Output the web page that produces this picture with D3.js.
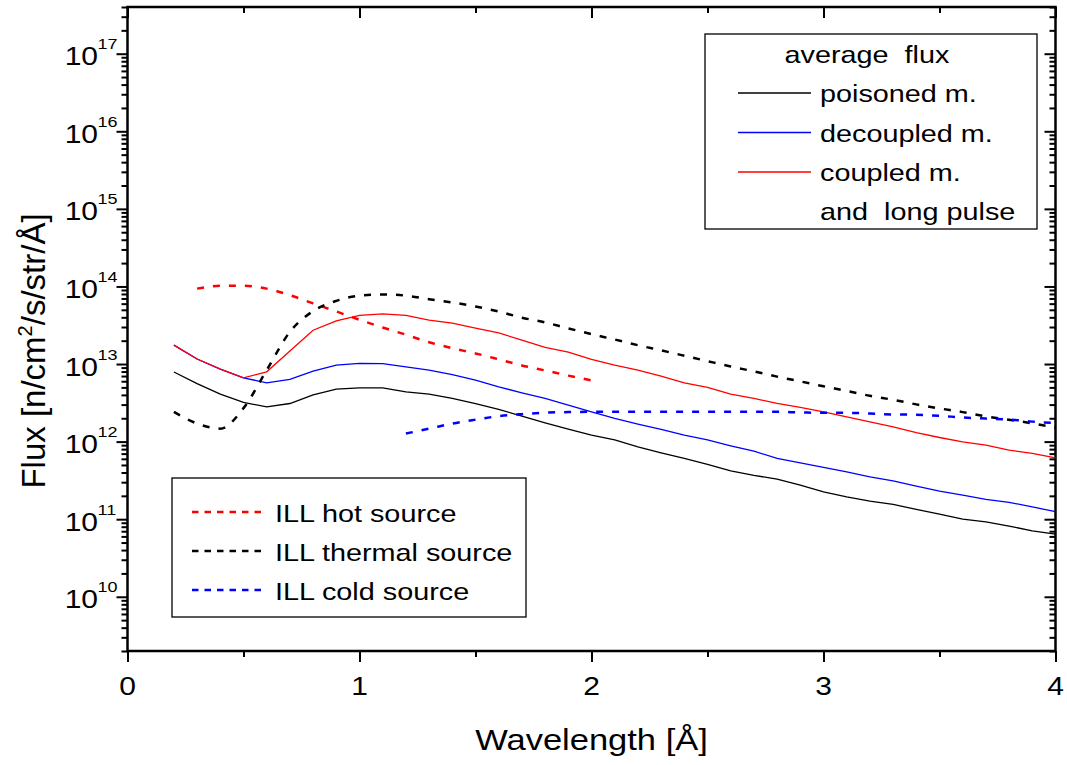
<!DOCTYPE html>
<html>
<head>
<meta charset="utf-8">
<script src="https://cdnjs.cloudflare.com/ajax/libs/d3/7.8.5/d3.min.js"></script>
<style>
  body { margin: 0; background: #fff; }
  svg { display: block; font-family: "Liberation Sans", Arial, sans-serif; }
  text { white-space: pre; fill: #000; }
</style>
</head>
<body>
<div id="chart"></div>
<script>
/* Flux vs wavelength, log y axis */

// wavelength grids [A]
var modLambda = [0.2, 0.3, 0.4, 0.5, 0.6, 0.7, 0.8, 0.9, 1.0, 1.1, 1.2, 1.3, 1.4, 1.5,
                 1.6, 1.7, 1.8, 1.9, 2.0, 2.1, 2.2, 2.3, 2.4, 2.5, 2.6, 2.7, 2.8, 2.9,
                 3.0, 3.1, 3.2, 3.3, 3.4, 3.5, 3.6, 3.7, 3.8, 3.9, 4.0];
var hotLambda = [0.3, 0.4, 0.5, 0.6, 0.7, 0.8, 0.9, 1.0, 1.1, 1.2, 1.3, 1.4, 1.5,
                 1.6, 1.7, 1.8, 1.9, 2.0];
var coldLambda = [1.2, 1.3, 1.4, 1.5, 1.6, 1.7, 1.8, 1.9, 2.0, 2.1, 2.2, 2.3, 2.4, 2.5,
                  2.6, 2.7, 2.8, 2.9, 3.0, 3.1, 3.2, 3.3, 3.4, 3.5, 3.6, 3.7, 3.8, 3.9, 4.0];

// average flux of the moderators
var poisoned = [7.9e12, 5.6e12, 4.1e12, 3.2e12, 2.8e12, 3.1e12, 4.0e12, 4.75e12, 4.93e12, 4.93e12,
                4.38e12, 4.09e12, 3.6e12, 3.09e12, 2.6e12, 2.13e12, 1.75e12, 1.45e12, 1.21e12, 1.05e12,
                8.57e11, 7.17e11, 6.07e11, 5.08e11, 4.2e11, 3.67e11, 3.29e11, 2.75e11, 2.25e11, 1.94e11,
                1.71e11, 1.55e11, 1.34e11, 1.16e11, 1.0e11, 9.26e10, 8.15e10, 7.09e10, 6.43e10];
var decoupled = [1.75e13, 1.16e13, 8.6e12, 6.64e12, 5.72e12, 6.33e12, 8.1e12, 9.67e12, 1.02e13, 1.01e13,
                 9.2e12, 8.35e12, 7.3e12, 6.2e12, 5.08e12, 4.26e12, 3.6e12, 2.95e12, 2.42e12, 1.99e12,
                 1.68e12, 1.44e12, 1.21e12, 1.05e12, 8.83e11, 7.54e11, 6.07e11, 5.33e11, 4.65e11, 4.08e11,
                 3.52e11, 3.12e11, 2.67e11, 2.3e11, 2.04e11, 1.8e11, 1.65e11, 1.44e11, 1.25e11];
var coupled = [1.75e13, 1.16e13, 8.6e12, 6.64e12, 7.93e12, 1.47e13, 2.73e13, 3.6e13, 4.23e13, 4.44e13,
               4.23e13, 3.68e13, 3.37e13, 2.9e13, 2.52e13, 2.03e13, 1.64e13, 1.42e13, 1.15e13, 9.67e12,
               8.35e12, 6.98e12, 5.72e12, 4.99e12, 4.09e12, 3.6e12, 3.11e12, 2.76e12, 2.42e12, 2.09e12,
               1.8e12, 1.55e12, 1.31e12, 1.13e12, 9.94e11, 9.01e11, 7.77e11, 7.05e11, 6.18e11];

// ILL sources
var illHot = [9.37e13, 1.02e14, 1.02e14, 9.37e13, 7.72e13, 6.04e13, 4.76e13, 3.71e13, 2.96e13,
              2.39e13, 1.91e13, 1.6e13, 1.37e13, 1.15e13, 9.59e12, 8.27e12, 7.09e12, 6.15e12];
var illThermal = [2.42e12, 1.71e12, 1.47e12, 2.7e12, 8.35e12, 2.6e13, 4.81e13, 6.52e13, 7.61e13, 7.89e13,
                  7.61e13, 6.86e13, 6.22e13, 5.52e13, 4.74e13, 3.96e13, 3.44e13, 2.88e13, 2.43e13, 2.07e13,
                  1.75e13, 1.5e13, 1.28e13, 1.09e13, 9.31e12, 8.03e12, 6.88e12, 5.97e12, 5.16e12, 4.51e12,
                  3.89e12, 3.46e12, 3.02e12, 2.68e12, 2.4e12, 2.11e12, 1.91e12, 1.72e12, 1.52e12];
var illCold = [1.27e12, 1.47e12, 1.71e12, 1.92e12, 2.13e12, 2.26e12, 2.36e12, 2.4e12, 2.42e12, 2.42e12,
               2.42e12, 2.42e12, 2.42e12, 2.42e12, 2.42e12, 2.42e12, 2.42e12, 2.38e12, 2.35e12, 2.35e12,
               2.3e12, 2.24e12, 2.22e12, 2.15e12, 2.05e12, 1.98e12, 1.93e12, 1.81e12, 1.73e12];

// ticks
var xMajor = [0, 1, 2, 3, 4];
var xMinor = [0.5, 1.5, 2.5, 3.5];
var yMajor = [1e10, 1e11, 1e12, 1e13, 1e14, 1e15, 1e16, 1e17];
var yExponents = ["10", "11", "12", "13", "14", "15", "16", "17"];

// legends
var modLegend = ["poisoned m.", "decoupled m.", "coupled m."];
var illLegend = ["ILL hot source", "ILL thermal source", "ILL cold source"];

var width = 1067, height = 765;
var plotLeft = 127.5, plotRight = 1055.5, plotTop = 7, plotBottom = 651;

var svg = d3.select("#chart").append("svg")
            .attr("width", width)
            .attr("height", height);

var x = d3.scaleLinear().domain([0, 4]).range([plotLeft, plotRight]);
var y = d3.scaleLog().domain([2e9, 4e17]).range([plotBottom, plotTop]);

// minor log ticks 2..9 in every decade of the domain
var yMinor = [];
for (var e = 9; e <= 17; e++) {
  for (var m = 2; m <= 9; m++) {
    var v = m * Math.pow(10, e);
    if (v >= 2e9 && v <= 4e17) yMinor.push(v);
  }
}

function stretchedText(parent, str, tx, ty, size, anchor, sx) {
  return parent.append("text")
    .attr("transform", "translate(" + tx + "," + ty + ") scale(" + sx + ",1)")
    .attr("text-anchor", anchor)
    .attr("font-size", size)
    .text(str);
}

function styleAxis(g) {
  g.select(".domain").remove();
  g.selectAll("line").attr("stroke", "#000").attr("stroke-width", 2);
}

// bottom axis (ticks out)
svg.append("g")
  .attr("transform", "translate(0," + plotBottom + ")")
  .call(d3.axisBottom(x).tickValues(xMajor).tickSize(11).tickSizeOuter(0).tickFormat(""))
  .call(styleAxis);
svg.append("g")
  .attr("transform", "translate(0," + plotBottom + ")")
  .call(d3.axisBottom(x).tickValues(xMinor).tickSize(6).tickSizeOuter(0).tickFormat(""))
  .call(styleAxis);

// top axis (ticks in)
svg.append("g")
  .attr("transform", "translate(0," + plotTop + ")")
  .call(d3.axisTop(x).tickValues(xMajor).tickSize(-11).tickSizeOuter(0).tickFormat(""))
  .call(styleAxis);
svg.append("g")
  .attr("transform", "translate(0," + plotTop + ")")
  .call(d3.axisTop(x).tickValues(xMinor).tickSize(-6).tickSizeOuter(0).tickFormat(""))
  .call(styleAxis);

// left axis (ticks out)
svg.append("g")
  .attr("transform", "translate(" + plotLeft + ",0)")
  .call(d3.axisLeft(y).tickValues(yMajor).tickSize(11).tickSizeOuter(0).tickFormat(""))
  .call(styleAxis);
svg.append("g")
  .attr("transform", "translate(" + plotLeft + ",0)")
  .call(d3.axisLeft(y).tickValues(yMinor).tickSize(6).tickSizeOuter(0).tickFormat(""))
  .call(styleAxis);

// right axis (ticks in)
svg.append("g")
  .attr("transform", "translate(" + plotRight + ",0)")
  .call(d3.axisRight(y).tickValues(yMajor).tickSize(-11).tickSizeOuter(0).tickFormat(""))
  .call(styleAxis);
svg.append("g")
  .attr("transform", "translate(" + plotRight + ",0)")
  .call(d3.axisRight(y).tickValues(yMinor).tickSize(-6).tickSizeOuter(0).tickFormat(""))
  .call(styleAxis);

// frame
svg.append("rect")
  .attr("x", plotLeft)
  .attr("y", plotTop)
  .attr("width", plotRight - plotLeft)
  .attr("height", plotBottom - plotTop)
  .attr("fill", "none")
  .attr("stroke", "#000")
  .attr("stroke-width", 2.5);

// x tick labels
xMajor.forEach(function(d) {
  stretchedText(svg, String(d), x(d), 695, 25, "middle", 1.2);
});

// y tick labels 10^n
yMajor.forEach(function(d, i) {
  stretchedText(svg, "10", 98, y(d) + 11.5, 25, "end", 1.2);
  stretchedText(svg, yExponents[i], 97.5, y(d) - 4.5, 15, "start", 1.2);
});

// axis titles
stretchedText(svg, "Wavelength [Å]", (plotLeft + plotRight) / 2, 750, 30, "middle", 1.15);

var yTitle = svg.append("text")
  .attr("transform", "translate(45,351) rotate(-90)")
  .attr("text-anchor", "middle")
  .attr("font-size", 33);
yTitle.append("tspan").text("Flux [n/cm");
yTitle.append("tspan").attr("dy", -13).attr("font-size", 20).text("2");
yTitle.append("tspan").attr("dy", 13).text("/s/str/Å]");

// data lines
var line = d3.line()
             .x(function(d) { return x(d[0]); })
             .y(function(d) { return y(d[1]); });
var smooth = d3.line()
               .curve(d3.curveMonotoneX)
               .x(function(d) { return x(d[0]); })
               .y(function(d) { return y(d[1]); });

var solidSeries = [
  { values: d3.zip(modLambda, poisoned), color: "#000000" },
  { values: d3.zip(modLambda, decoupled), color: "#0000ff" },
  { values: d3.zip(modLambda, coupled), color: "#ff0000" }
];
var dashedSeries = [
  { values: d3.zip(hotLambda, illHot), color: "#ff0000" },
  { values: d3.zip(modLambda, illThermal), color: "#000000" },
  { values: d3.zip(coldLambda, illCold), color: "#0000ff" }
];

svg.selectAll("path.solid")
  .data(solidSeries)
  .enter()
  .append("path")
  .attr("class", "solid")
  .attr("fill", "none")
  .attr("stroke", function(d) { return d.color; })
  .attr("stroke-width", 1.3)
  .attr("d", function(d) { return line(d.values); });

svg.selectAll("path.dashed")
  .data(dashedSeries)
  .enter()
  .append("path")
  .attr("class", "dashed")
  .attr("fill", "none")
  .attr("stroke", function(d) { return d.color; })
  .attr("stroke-width", 2.5)
  .attr("stroke-dasharray", "7,9")
  .attr("d", function(d) { return smooth(d.values); });

// legend: moderators
var leg1 = svg.append("g");
leg1.append("rect")
  .attr("x", 705).attr("y", 34)
  .attr("width", 332).attr("height", 195)
  .attr("fill", "#fff")
  .attr("stroke", "#000")
  .attr("stroke-width", 1.3);
stretchedText(leg1, "average  flux", 867, 63, 24, "middle", 1.2);
modLegend.forEach(function(label, i) {
  var ly = 93 + i * 39.5;
  leg1.append("line")
    .attr("x1", 738).attr("x2", 811)
    .attr("y1", ly).attr("y2", ly)
    .attr("stroke", solidSeries[i].color)
    .attr("stroke-width", 1.3);
  stretchedText(leg1, label, 820, ly + 9, 24, "start", 1.2);
});
stretchedText(leg1, "and  long pulse", 820, 220, 24, "start", 1.2);

// legend: ILL sources
var leg2 = svg.append("g");
leg2.append("rect")
  .attr("x", 172).attr("y", 478)
  .attr("width", 354).attr("height", 139)
  .attr("fill", "#fff")
  .attr("stroke", "#000")
  .attr("stroke-width", 1.3);
illLegend.forEach(function(label, i) {
  var ly = 512 + i * 39;
  leg2.append("line")
    .attr("x1", 192).attr("x2", 262)
    .attr("y1", ly).attr("y2", ly)
    .attr("stroke", dashedSeries[i].color)
    .attr("stroke-width", 2.5)
    .attr("stroke-dasharray", "6.5,6");
  stretchedText(leg2, label, 275, ly + 10, 24, "start", 1.2);
});
</script>
</body>
</html>
